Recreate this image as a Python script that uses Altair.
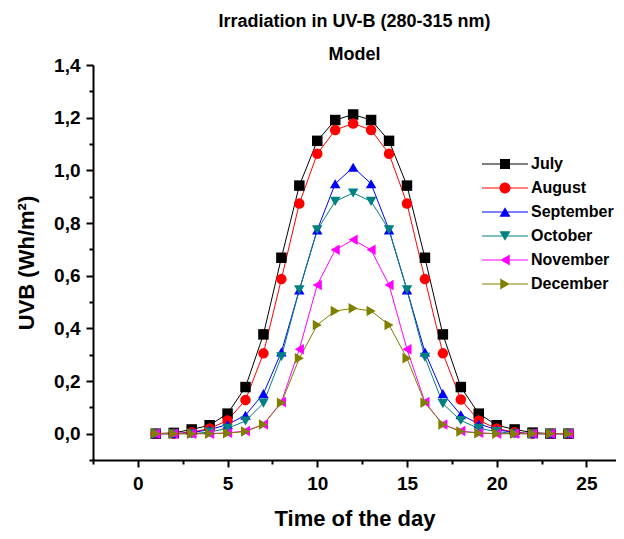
import altair as alt
import pandas as pd

hours = list(range(1, 25))
months = ["July", "August", "September", "October", "November", "December"]

july = [0.0, 0.003, 0.016, 0.032, 0.076, 0.177, 0.377, 0.668, 0.942, 1.112, 1.191, 1.212,
        1.191, 1.112, 0.942, 0.668, 0.377, 0.177, 0.076, 0.032, 0.016, 0.004, 0.0, 0.0]
august = [0.0, 0.0, 0.005, 0.02, 0.05, 0.128, 0.305, 0.587, 0.874, 1.063, 1.153, 1.178,
          1.153, 1.063, 0.874, 0.587, 0.305, 0.13, 0.05, 0.02, 0.005, 0.0, 0.0, 0.0]
september = [0.0, 0.0, 0.004, 0.015, 0.035, 0.07, 0.152, 0.31, 0.546, 0.774, 0.949, 1.012,
             0.949, 0.774, 0.546, 0.31, 0.152, 0.072, 0.037, 0.015, 0.004, 0.0, 0.0, 0.0]
october = [0.0, 0.0, 0.0, 0.006, 0.02, 0.048, 0.116, 0.292, 0.546, 0.774, 0.882, 0.914,
           0.882, 0.774, 0.546, 0.29, 0.114, 0.05, 0.02, 0.008, 0.0, 0.0, 0.0, 0.0]
november = [0.0, 0.0, 0.0, 0.0, 0.003, 0.01, 0.035, 0.12, 0.321, 0.565, 0.698, 0.736,
            0.698, 0.565, 0.321, 0.12, 0.035, 0.01, 0.003, 0.0, 0.0, 0.0, 0.0, 0.0]
december = [0.0, 0.0, 0.0, 0.0, 0.002, 0.008, 0.035, 0.117, 0.286, 0.413, 0.466, 0.476,
            0.466, 0.413, 0.286, 0.117, 0.035, 0.008, 0.002, 0.0, 0.0, 0.0, 0.0, 0.0]
series = [july, august, september, october, november, december]

colors = ["#000000", "#FF0000", "#0000FF", "#008080", "#FF00FF", "#808000"]
shapes = ["square", "circle", "triangle-up", "triangle-down", "triangle-left", "triangle-right"]

LINE = "M-4.6,-0.1H4.6V0.1H-4.6Z"
legend_paths = [
    LINE + "M-1,-1H1V1H-1Z",
    LINE + "M-1.1,0A1.1,1.1,0,1,1,1.1,0A1.1,1.1,0,1,1,-1.1,0Z",
    LINE + "M0,-0.95L1.1,0.95L-1.1,0.95Z",
    LINE + "M0,0.95L-1.1,-0.95L1.1,-0.95Z",
    LINE + "M-0.95,0L0.95,-1.1L0.95,1.1Z",
    LINE + "M0.95,0L-0.95,1.1L-0.95,-1.1Z",
]

rows = []
for m, vals in zip(months, series):
    for h, v in zip(hours, vals):
        rows.append({"month": m, "hour": h, "uvb": v})
df = pd.DataFrame(rows)

FONT = "Liberation Sans"

x_vals = [-2.5 + 2.5 * i for i in range(12)]
y_vals = [round(-0.1 + 0.1 * i, 1) for i in range(16)]

x = alt.X(
    "hour:Q",
    scale=alt.Scale(domain=[-2.5, 26.65], nice=False, zero=False),
    axis=alt.Axis(
        values=x_vals,
        labelExpr="datum.value % 5 == 0 && datum.value >= 0 ? format(datum.value, 'd') : ''",
        tickSize={"condition": {"test": "datum.value % 5 == 0", "value": 7}, "value": 4},
        title="Time of the day",
        titleFontSize=22,
        titlePadding=15,
        labelFontSize=19,
        labelPadding=7,
        labelFlush=False,
    ),
)
y = alt.Y(
    "uvb:Q",
    scale=alt.Scale(domain=[-0.1, 1.4], nice=False, zero=False),
    axis=alt.Axis(
        values=y_vals,
        labelExpr="(abs(round(datum.value * 10)) % 2 == 0) && datum.value >= 0 ? replace(format(datum.value, '.1f'), '.', ',') : ''",
        tickSize={"condition": {"test": "abs(round(datum.value * 10)) % 2 == 0", "value": 7}, "value": 4},
        title="UVB (Wh/m²)",
        titleFontSize=22,
        titlePadding=15,
        labelFontSize=19,
        labelPadding=6,
        labelFlush=False,
    ),
)

color_nolegend = alt.Color("month:N", scale=alt.Scale(domain=months, range=colors), legend=None)

lines = alt.Chart(df).mark_line(strokeWidth=1).encode(x=x, y=y, color=color_nolegend)

points = alt.Chart(df).mark_point(filled=True, size=110, opacity=1, strokeWidth=0).encode(
    x=x,
    y=y,
    color=color_nolegend,
    shape=alt.Shape("month:N", scale=alt.Scale(domain=months, range=shapes), legend=None),
)

leg = dict(
    orient="none",
    legendX=404,
    legendY=91,
    title=None,
    labelFont=FONT,
    labelFontSize=16,
    labelFontWeight="bold",
    labelColor="#000000",
    symbolSize=100,
    symbolStrokeWidth=0,
    symbolOpacity=1,
    labelOffset=18,
    rowPadding=8,
    padding=0,
    labelLimit=300,
)

legend_layer = alt.Chart(df).transform_filter("datum.hour > 100").mark_point(
    filled=True, size=100, opacity=1
).encode(
    x=x,
    y=y,
    color=alt.Color("month:N", scale=alt.Scale(domain=months, range=colors), legend=alt.Legend(**leg)),
    shape=alt.Shape("month:N", scale=alt.Scale(domain=months, range=legend_paths), legend=alt.Legend(**leg)),
)

chart = (
    alt.layer(lines, points, legend_layer)
    .resolve_scale(color="independent", shape="independent")
    .properties(
        width=523,
        height=395,
        autosize=alt.AutoSizeParams(type="none"),
        padding={"left": 85, "top": 57, "right": 0, "bottom": 71},
        title=alt.TitleParams(
            text="Irradiation in UV-B (280-315 nm)",
            subtitle="Model",
            font=FONT,
            fontSize=18,
            fontWeight="bold",
            color="#000000",
            subtitleFont=FONT,
            subtitleFontSize=18,
            subtitleFontWeight="bold",
            subtitleColor="#000000",
            subtitlePadding=15,
            anchor="middle",
            frame="group",
            offset=-8,
        ),
    )
    .configure_view(stroke=None)
    .configure_axis(
        grid=False,
        domainColor="#000000",
        domainWidth=2,
        tickColor="#000000",
        tickWidth=2,
        labelFont=FONT,
        labelFontWeight="bold",
        labelColor="#000000",
        titleFont=FONT,
        titleFontWeight="bold",
        titleColor="#000000",
    )
)

chart.save("out.html", embed_options={"renderer": "svg", "actions": False})
